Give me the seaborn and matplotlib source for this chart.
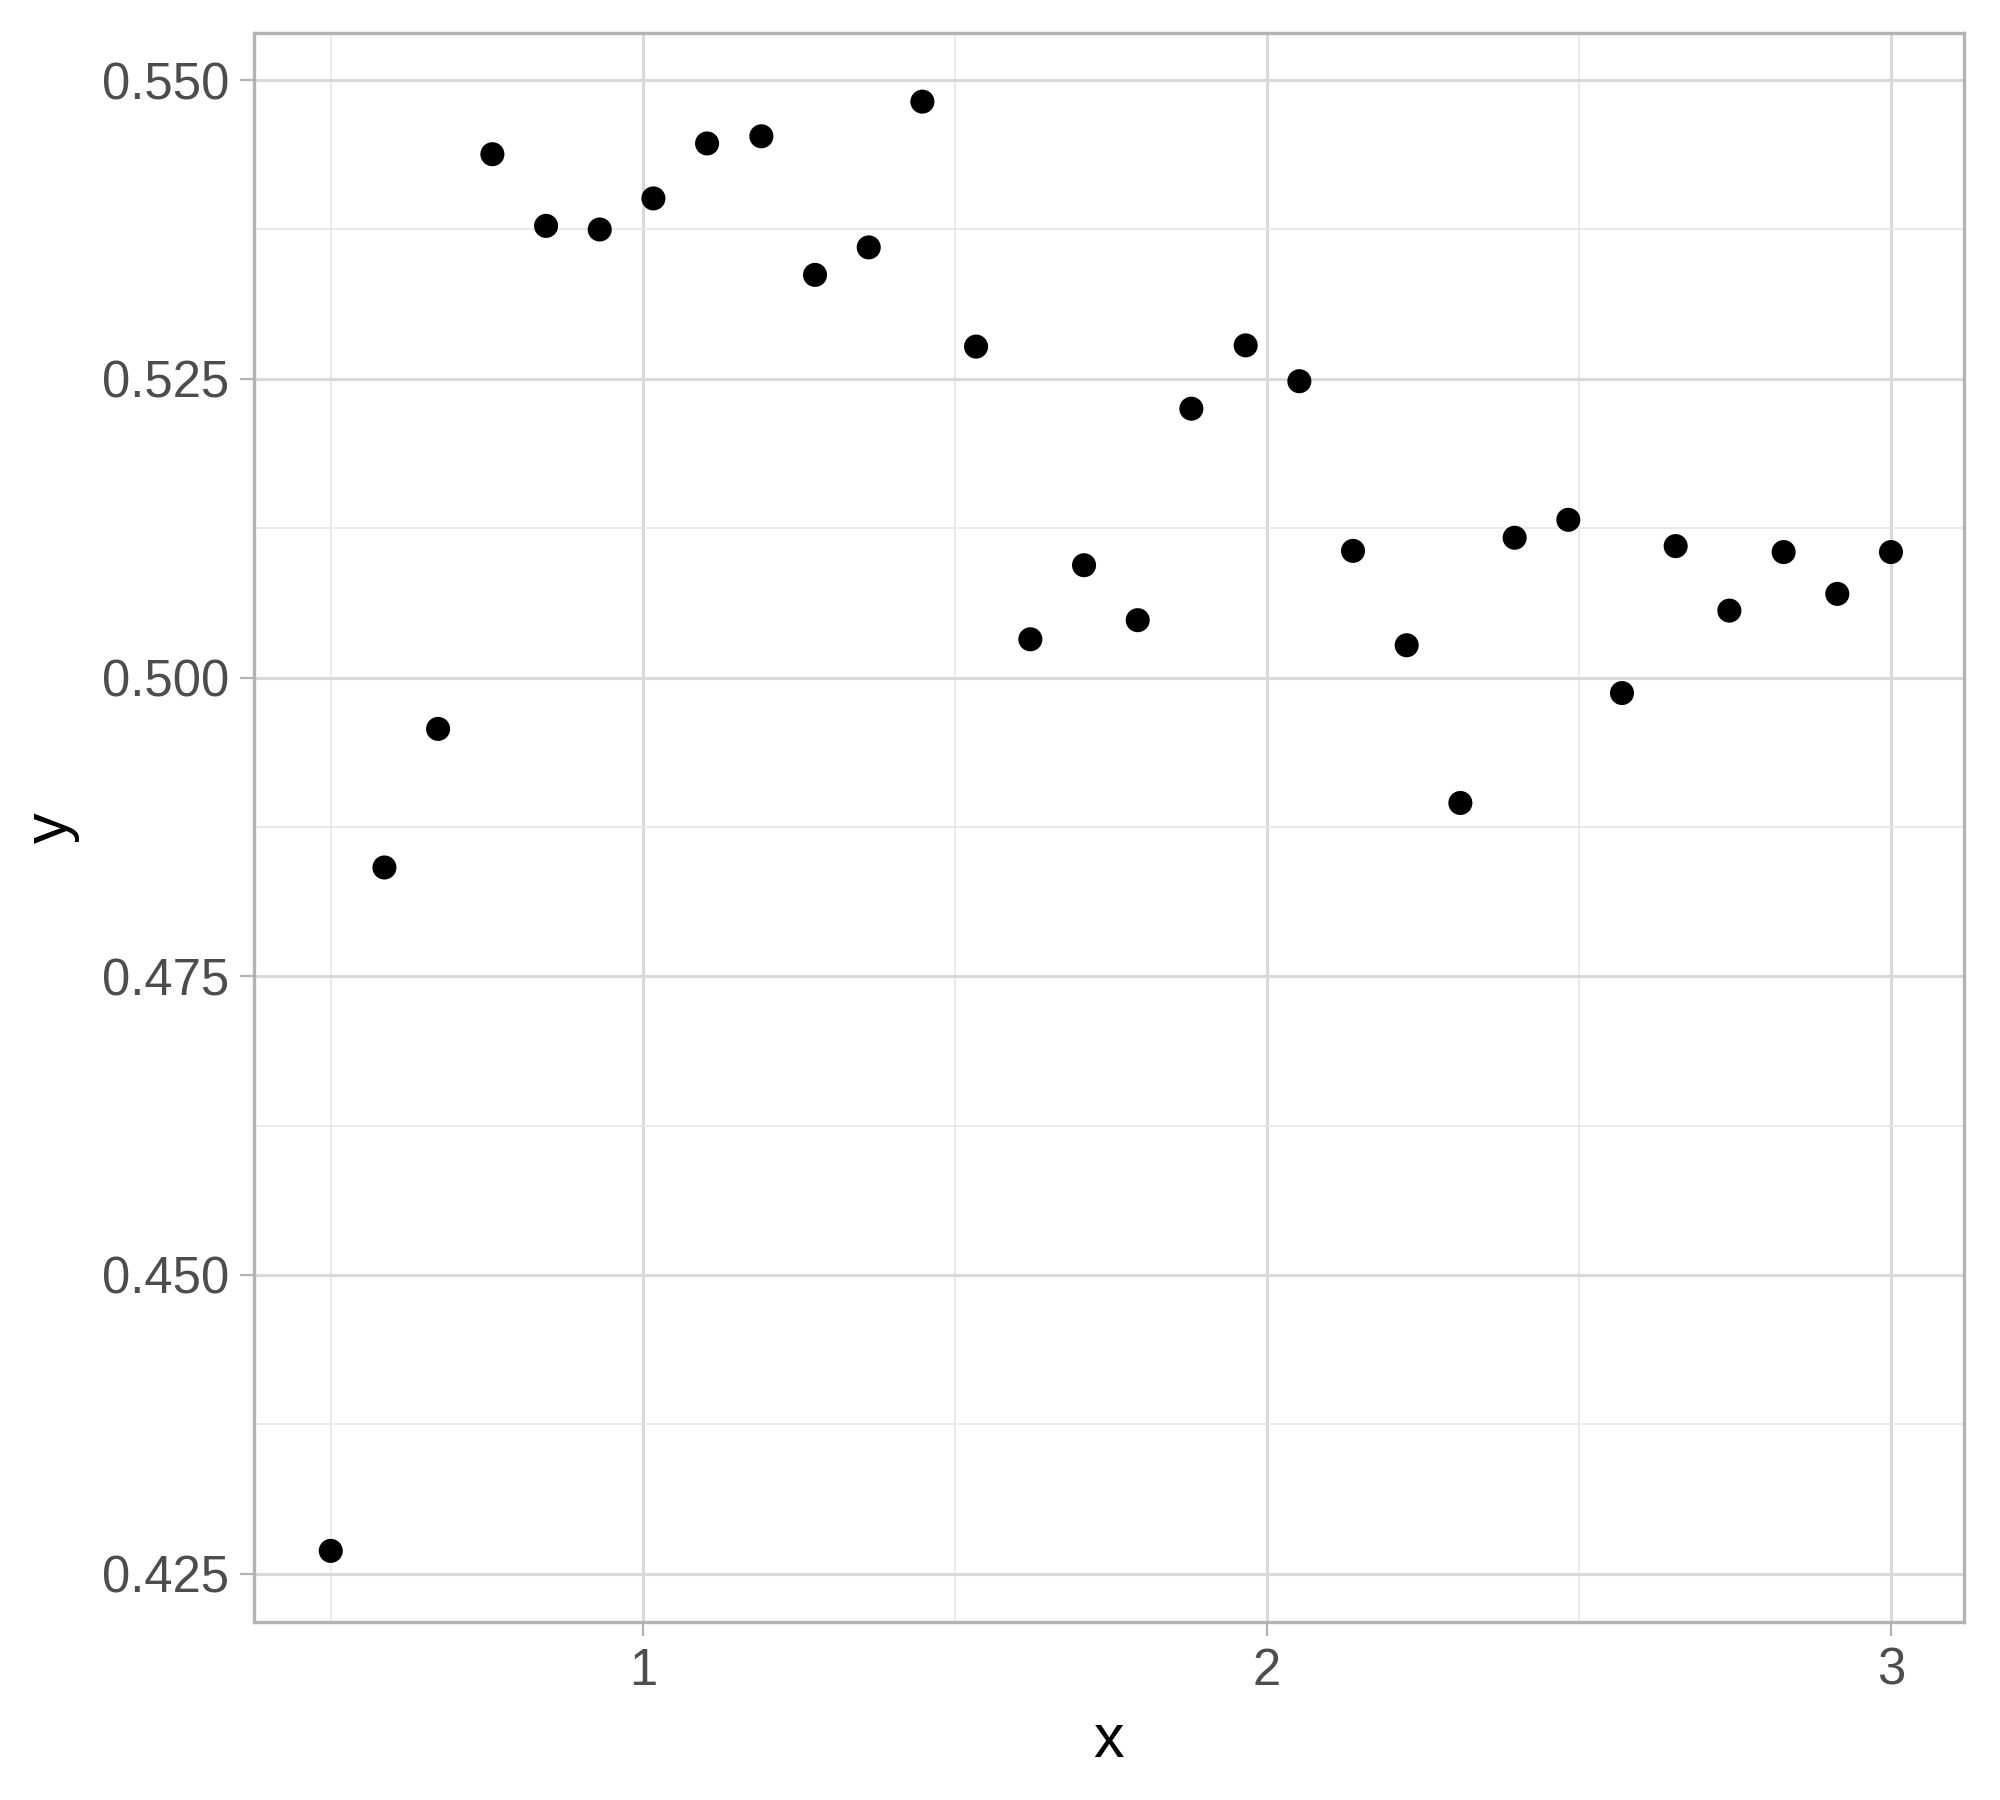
import matplotlib
matplotlib.use("Agg")
import matplotlib.pyplot as plt
import seaborn as sns
import pandas as pd
from matplotlib.ticker import MultipleLocator, FormatStrFormatter

# --- data ---
x_vals = [0.500, 0.586, 0.672, 0.759, 0.845, 0.931, 1.017, 1.103, 1.190, 1.276,
          1.362, 1.448, 1.534, 1.621, 1.707, 1.793, 1.879, 1.966, 2.052, 2.138,
          2.224, 2.310, 2.397, 2.483, 2.569, 2.655, 2.741, 2.828, 2.914, 3.000]
y_vals = [0.4269, 0.4841, 0.4957, 0.5438, 0.5378, 0.5375, 0.5401, 0.5447, 0.5453, 0.5337,
          0.5360, 0.5482, 0.5277, 0.5032, 0.5094, 0.5048, 0.5225, 0.5278, 0.5248, 0.5106,
          0.5027, 0.4895, 0.5117, 0.5132, 0.4987, 0.5110, 0.5056, 0.5105, 0.5070, 0.5105]

df = pd.DataFrame({"x": x_vals, "y": y_vals})

sns.set_theme(style="white")
plt.rcParams['font.family'] = ['Liberation Sans', 'DejaVu Sans']

fig = plt.figure(figsize=(10, 9), dpi=200)
ax = fig.add_axes([0.127, 0.0989, 0.855, 0.8828])

sns.scatterplot(data=df, x="x", y="y", ax=ax, color="black", s=75,
                edgecolor="none", zorder=3)

ax.set_xlim(0.377, 3.117)
ax.set_ylim(0.42095, 0.55395)
ax.xaxis.set_major_locator(MultipleLocator(1))
ax.xaxis.set_minor_locator(MultipleLocator(0.5))
ax.yaxis.set_major_locator(MultipleLocator(0.025))
ax.yaxis.set_minor_locator(MultipleLocator(0.0125))
ax.yaxis.set_major_formatter(FormatStrFormatter("%.3f"))

ax.grid(True, which="major", color="#D9D9D9", linewidth=1.1, zorder=0)
ax.grid(True, which="minor", color="#E6E6E6", linewidth=0.6, zorder=0)
ax.set_axisbelow(True)

for sp in ax.spines.values():
    sp.set_color("#B3B3B3")
    sp.set_linewidth(1.2)

ax.tick_params(which="major", length=5, width=0.8, color="#B3B3B3",
               labelsize=18.3, labelcolor="#4D4D4D", pad=4,
               bottom=True, left=True)
ax.tick_params(which="minor", length=0)

ax.set_xlabel("x", fontsize=22, color="black", labelpad=6)
ax.set_ylabel("y", fontsize=22, color="black", labelpad=8)

plt.savefig("out.png", dpi=200)
